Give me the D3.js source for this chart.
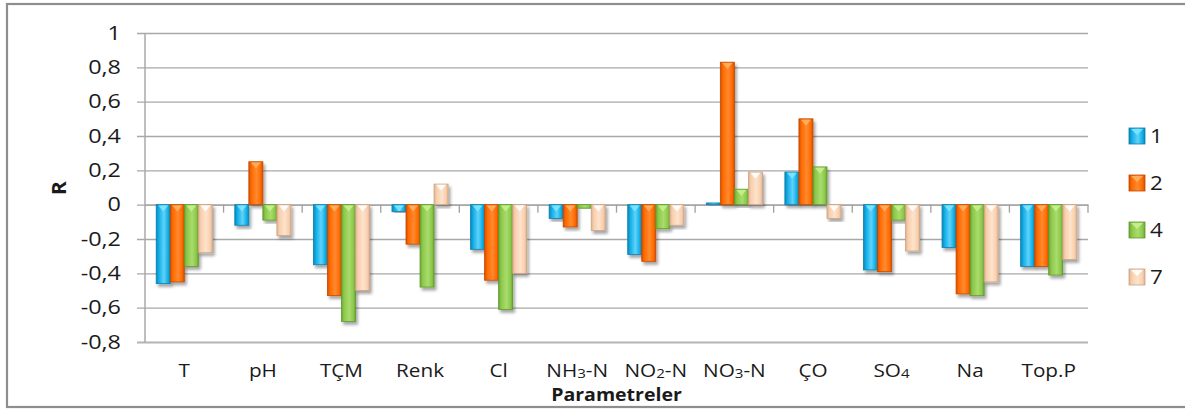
<!DOCTYPE html>
<html>
<head>
<meta charset="utf-8">
<script src="https://cdn.jsdelivr.net/npm/d3@7"></script>
<style>
  html, body { margin: 0; padding: 0; background: #fff; }
  svg { display: block; }
  text { font-family: "Open Sans", "Noto Sans", sans-serif; fill: #1a1a1a; }
</style>
</head>
<body>
<svg id="chart" width="1185" height="411"></svg>
<script>
// ---- data ----
const categories = ["T", "pH", "TÇM", "Renk", "Cl", "NH3-N", "NO2-N", "NO3-N", "ÇO", "SO4", "Na", "Top.P"];
const seriesNames = ["1", "2", "4", "7"];
const values1 = [-0.46, -0.12, -0.35, -0.04, -0.26, -0.08, -0.29, 0.01, 0.19, -0.38, -0.25, -0.36];
const values2 = [-0.45, 0.25, -0.53, -0.23, -0.44, -0.13, -0.33, 0.83, 0.50, -0.39, -0.52, -0.36];
const values4 = [-0.36, -0.09, -0.68, -0.48, -0.61, -0.02, -0.14, 0.09, 0.22, -0.09, -0.53, -0.41];
const values7 = [-0.28, -0.18, -0.50, 0.12, -0.40, -0.15, -0.12, 0.19, -0.08, -0.27, -0.45, -0.32];
const yTicks = [-0.8, -0.6, -0.4, -0.2, 0, 0.2, 0.4, 0.6, 0.8, 1];
const yTitle = "R";
const xTitle = "Parametreler";

const seriesValues = [values1, values2, values4, values7];
const colors = [
  { base: "#10aee6", dark: "#0a86b8", light: "#5fd2fa", tri: "#7fe4ff", stroke: "#0b7fad" },
  { base: "#ff6a00", dark: "#d44f00", light: "#ff8a30", tri: "#ffb060", stroke: "#c24a00" },
  { base: "#8cc84b", dark: "#6aa632", light: "#a9dc6c", tri: "#c8f090", stroke: "#5f9a2c" },
  { base: "#f7cfae", dark: "#e4b08a", light: "#fde3cc", tri: "#ffffff", stroke: "#c9a488" }
];

// horizontally widen text to mimic the reference rendering
function stretch(sel, sx) {
  sel.each(function () {
    const t = d3.select(this);
    const x = +t.attr("x") || 0, y = +t.attr("y") || 0;
    t.attr("x", 0).attr("y", 0).attr("transform", `translate(${x},${y}) scale(${sx},1)`);
  });
}

// ---- layout ----
const svg = d3.select("#chart");
const plot = { left: 145, right: 1088, top: 33, bottom: 342 };

svg.append("rect")
  .attr("x", 7).attr("y", 4).attr("width", 1200).attr("height", 403)
  .attr("fill", "#fff").attr("stroke", "#8e8e8e").attr("stroke-width", 2.2);

const defs = svg.append("defs");
const shadow = defs.append("filter").attr("id", "shadow")
  .attr("x", "-30%").attr("y", "-10%").attr("width", "170%").attr("height", "130%");
shadow.append("feDropShadow").attr("dx", 2).attr("dy", 3).attr("stdDeviation", 1.6)
  .attr("flood-color", "#000").attr("flood-opacity", 0.35);

colors.forEach((c, i) => {
  const g = defs.append("linearGradient").attr("id", "grad" + i)
    .attr("x1", "0%").attr("x2", "100%").attr("y1", "0%").attr("y2", "0%");
  g.append("stop").attr("offset", "0%").attr("stop-color", c.dark);
  g.append("stop").attr("offset", "18%").attr("stop-color", c.base);
  g.append("stop").attr("offset", "55%").attr("stop-color", c.light);
  g.append("stop").attr("offset", "85%").attr("stop-color", c.base);
  g.append("stop").attr("offset", "100%").attr("stop-color", c.dark);
});

const y = d3.scaleLinear().domain([-0.8, 1]).range([plot.bottom, plot.top]);
const x = d3.scaleBand().domain(categories).range([plot.left, plot.right]).paddingInner(0).paddingOuter(0);
const x1 = d3.scaleBand().domain(seriesNames).range([0, x.bandwidth()]).paddingInner(0).paddingOuter(0.8);

// gridlines + y axis
const yAxis = d3.axisLeft(y).tickValues(yTicks)
  .tickSize(-(plot.right - plot.left))
  .tickFormat(d => String(d).replace(".", ","));
const gy = svg.append("g").attr("transform", `translate(${plot.left},0)`).call(yAxis);
gy.select(".domain").remove();
gy.selectAll(".tick line").attr("stroke", "#a8a8a8").attr("stroke-width", 1.3).attr("x1", -8);
gy.selectAll(".tick text").attr("x", -24).attr("font-size", 19.5).attr("fill", "#1a1a1a");
stretch(gy.selectAll(".tick text"), 1.2);
gy.selectAll(".tick").filter(d => d === -0.8).select("line").attr("stroke", "#b4b4b4").attr("stroke-width", 2);
svg.append("line").attr("x1", plot.left).attr("x2", plot.left)
  .attr("y1", plot.top).attr("y2", plot.bottom).attr("stroke", "#a8a8a8").attr("stroke-width", 1.5);

// category axis at zero
const xAxis = d3.axisBottom(x).tickSize(0).tickFormat("");
const gx = svg.append("g").attr("transform", `translate(0,${y(0)})`).call(xAxis);
gx.select(".domain").attr("stroke", "#a0a0a0").attr("stroke-width", 1.3);
gx.selectAll(".tick").remove();
const boundaries = categories.map(c => x(c) + x.bandwidth());
gx.selectAll("line.bt").data(boundaries).join("line").attr("class", "bt")
  .attr("x1", d => d).attr("x2", d => d).attr("y1", 0).attr("y2", 8)
  .attr("stroke", "#a0a0a0").attr("stroke-width", 1.3);

// bars
const barData = [];
seriesValues.forEach((vals, si) => {
  vals.forEach((v, ci) => barData.push({ cat: categories[ci], s: seriesNames[si], si, v }));
});
const bars = svg.append("g").selectAll("g.bar").data(barData).join("g").attr("class", "bar")
  .attr("filter", "url(#shadow)");
bars.append("rect")
  .attr("x", d => x(d.cat) + x1(d.s))
  .attr("y", d => Math.min(y(d.v), y(0)))
  .attr("width", x1.bandwidth())
  .attr("height", d => Math.max(1, Math.abs(y(d.v) - y(0))))
  .attr("fill", d => `url(#grad${d.si})`)
  .attr("stroke", d => colors[d.si].stroke).attr("stroke-width", 0.8);
bars.filter(d => Math.abs(y(d.v) - y(0)) > 6).append("path")
  .attr("d", d => {
    const x0 = x(d.cat) + x1(d.s);
    const w = x1.bandwidth();
    const top = Math.min(y(d.v), y(0)) + 0.8;
    return `M${x0 + 2},${top} L${x0 + w - 2},${top} L${x0 + w / 2},${top + 6} Z`;
  })
  .attr("fill", d => colors[d.si].tri).attr("opacity", 0.9);

// category labels (digits as subscripts)
const labG = svg.append("g");
categories.forEach(c => {
  const t = labG.append("text")
    .attr("x", x(c) + x.bandwidth() / 2).attr("y", 377)
    .attr("text-anchor", "middle").attr("font-size", 18.5);
  const parts = c.split(/(\d)/).filter(p => p.length);
  parts.forEach((p, i) => {
    if (/\d/.test(p)) t.append("tspan").attr("font-size", 13.5).attr("dy", 1).text(p);
    else {
      const ts = t.append("tspan").text(p);
      if (i > 0) ts.attr("dy", -1);
    }
  });
});
stretch(labG.selectAll("text"), 1.12);

// axis titles
const xt = svg.append("text").attr("x", (plot.left + plot.right) / 2 + 0).attr("y", 401)
  .attr("text-anchor", "middle").attr("font-size", 17).attr("font-weight", "bold").text(xTitle);
stretch(xt, 1.15);
svg.append("text").attr("transform", "translate(66,188) rotate(-90) scale(1.1,1)")
  .attr("text-anchor", "middle").attr("font-size", 19).attr("font-weight", "bold").text(yTitle);

// legend
const legend = svg.append("g");
seriesNames.forEach((s, i) => {
  const ly = 136 + i * 47;
  const g = legend.append("g");
  g.append("rect").attr("x", 1129).attr("y", ly - 8).attr("width", 16).attr("height", 16)
    .attr("fill", `url(#grad${i})`).attr("stroke", colors[i].stroke).attr("stroke-width", 0.8);
  g.append("path").attr("d", `M${1131},${ly - 7} L${1143},${ly - 7} L${1137},${ly - 1} Z`)
    .attr("fill", colors[i].tri).attr("opacity", 0.9);
  const lt = g.append("text").attr("x", 1150).attr("y", ly + 7)
    .attr("font-size", 19.5).text(s);
  stretch(lt, 1.15);
});
</script>
</body>
</html>
